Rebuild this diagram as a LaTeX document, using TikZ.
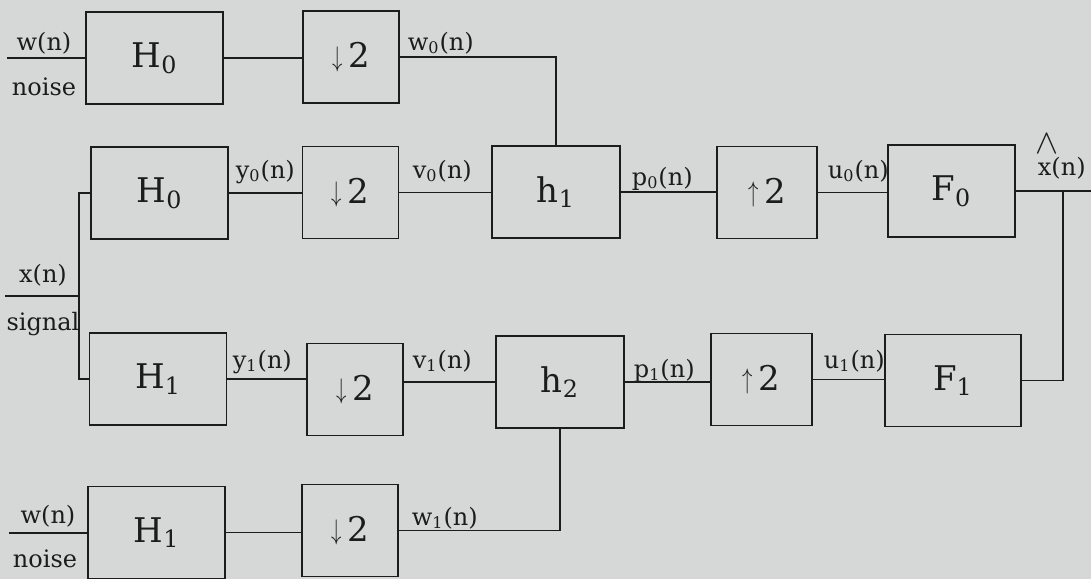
\documentclass[tikz,border=0pt]{standalone}
\usepackage{fontspec}
\setmainfont{DejaVu Serif}
\usepackage{tikz}
\usetikzlibrary{calc}
\definecolor{scan}{RGB}{214,216,215}
\definecolor{ink}{RGB}{28,28,28}
\newcommand{\dnarr}{\raisebox{0.05em}{\scalebox{0.6}[0.82]{$\downarrow$}}\,2}
\newcommand{\uparr}{\raisebox{0.05em}{\scalebox{0.6}[0.82]{$\uparrow$}}\,2}
\newcommand{\xest}{\makebox[0pt][l]{\hspace{-0.1em}\raisebox{0.9em}{\fontsize{16}{16}\selectfont$\wedge$}}x(n)}

\begin{document}
\begin{tikzpicture}[x=0.5pt,y=-0.5pt,line width=0.9pt,color=ink,
  blk/.style={rectangle,draw,inner sep=0pt,minimum height=46pt,font=\fontsize{17}{17}\selectfont},
  filt/.style={blk,minimum width=68.5pt},
  samp/.style={blk,minimum width=48pt},
  mix/.style={blk,minimum width=64pt},
  lab/.style={anchor=base,inner sep=0pt,font=\fontsize{12}{14}\selectfont}
]
\fill[scan] (0,0) rectangle (1091,579);
\useasboundingbox (0,0) rectangle (1091,579);

% analysis of the noise, upper branch
\coordinate (wa) at (7,58);
\node[filt] (H0a) at (154.5,58) {H\textsubscript{0}};
\node[samp] (Da) at (351,57) {\dnarr};

% analysis of the signal
\coordinate (xin) at (5,296);
\coordinate (split) at (79,296);
\node[filt] (H0b) at (159.5,193) {H\textsubscript{0}};
\node[samp] (Db) at (350.5,192.5) {\dnarr};
\node[filt] (H1b) at (158,379) {H\textsubscript{1}};
\node[samp] (Dc) at (355,389.5) {\dnarr};

% mixing and synthesis
\node[mix] (h1) at (556,192) {h\textsubscript{1}};
\node[samp,minimum width=50pt] (Ua) at (767,192.5) {\uparr};
\node[mix,minimum width=63.5pt] (F0) at (951.5,191) {F\textsubscript{0}};
\node[mix] (h2) at (560,382) {h\textsubscript{2}};
\node[samp,minimum width=50.5pt] (Ub) at (761.5,379.5) {\uparr};
\node[mix,minimum width=68pt] (F1) at (953,380.5) {F\textsubscript{1}};
\coordinate (xo) at (1091,192);
\coordinate (tap) at (1063,192);

% analysis of the noise, lower branch
\coordinate (wd) at (9,533);
\node[filt] (H1d) at (156.5,532.5) {H\textsubscript{1}};
\node[samp] (Dd) at (350,530.5) {\dnarr};

% connectors
\draw (wa) -- (H0a.west |- wa);
\draw (H0a.east) -- (Da.west |- H0a.east);
\draw (Da.east) -| (h1.north);
\draw (xin) -- (split);
\draw (H0b.west) -| (split) |- (H1b.west);
\draw (H0b.east) -- (Db.west |- H0b.east);
\draw (Db.east) -- (h1.west |- Db.east);
\draw (h1.east) -- (Ua.west |- h1.east);
\draw (Ua.east) -- (F0.west |- Ua.east);
\draw (F0.east) -- (F0.east -| xo);
\draw (F1.east) -| (tap);
\draw (H1b.east) -- (Dc.west |- H1b.east);
\draw (Dc.east |- h2.west) -- (h2.west);
\draw (h2.east) -- (Ub.west |- h2.east);
\draw (Ub.east) -- (F1.west |- Ub.east);
\draw (wd) -- (H1d.west |- wd);
\draw (H1d.east) -- (Dd.west |- H1d.east);
\draw (Dd.east) -| (h2.south);

% signal labels
\node[lab] (lwa) at (44,50) {w(n)};
\node[lab] (lna) at (44,95) {noise};
\node[lab,anchor=base west] (lw0) at (407,50) {w\textsubscript{0}(n)};
\node[lab] (lx) at (43,282) {x(n)};
\node[lab] (ls) at (43,330) {signal};
\node[lab,anchor=base west] (ly0) at (235,178) {y\textsubscript{0}(n)};
\node[lab,anchor=base west] (lv0) at (412,178) {v\textsubscript{0}(n)};
\node[lab,anchor=base west] (lp0) at (631,185) {p\textsubscript{0}(n)};
\node[lab,anchor=base west] (lu0) at (827,178) {u\textsubscript{0}(n)};
\node[lab,anchor=base west] (lxh) at (1037,175) {\xest};
\node[lab,anchor=base west] (ly1) at (232,368) {y\textsubscript{1}(n)};
\node[lab,anchor=base west] (lv1) at (412,368) {v\textsubscript{1}(n)};
\node[lab,anchor=base west] (lp1) at (633,377) {p\textsubscript{1}(n)};
\node[lab,anchor=base west] (lu1) at (823,368) {u\textsubscript{1}(n)};
\node[lab] (lwd) at (48,523) {w(n)};
\node[lab] (lnd) at (45,567) {noise};
\node[lab,anchor=base west] (lw1) at (411,525) {w\textsubscript{1}(n)};
\end{tikzpicture}
\end{document}
